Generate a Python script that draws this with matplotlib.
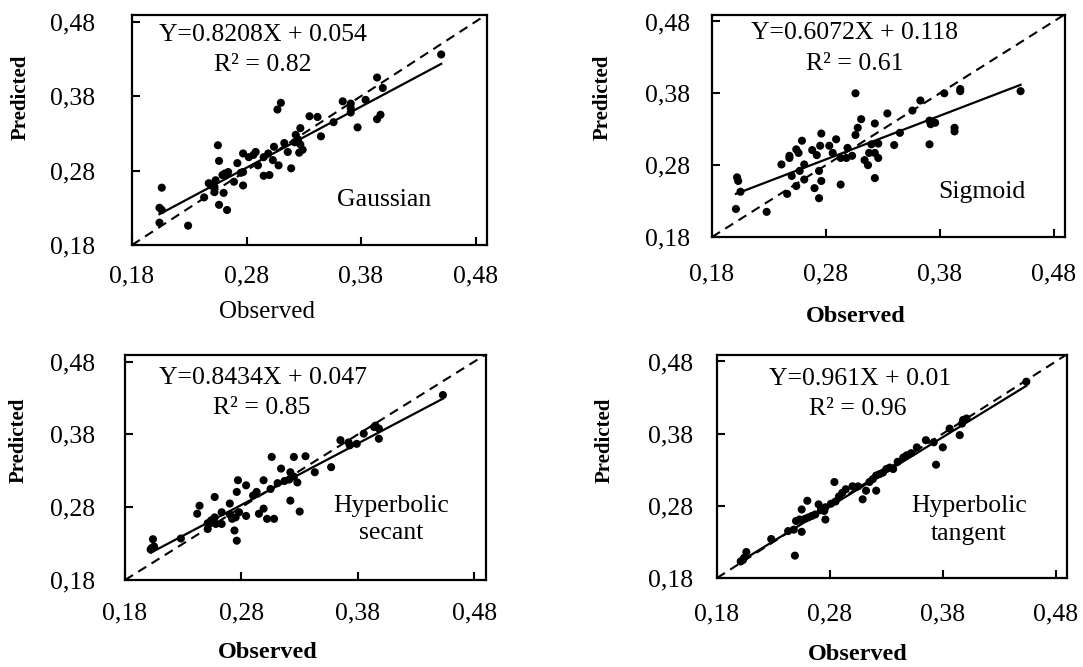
import matplotlib
matplotlib.use('Agg')
import matplotlib.pyplot as plt

plt.rcParams['font.family'] = ['Liberation Serif', 'DejaVu Serif']

# ── Data ────────────────────────────────────────────────────
obs_gauss = [0.450, 0.394, 0.399, 0.364, 0.371, 0.371, 0.371, 0.384, 0.377, 0.394,
             0.397, 0.356, 0.335, 0.342, 0.345, 0.327, 0.307, 0.310, 0.323, 0.325,
             0.327, 0.329, 0.326, 0.322, 0.313, 0.316, 0.304, 0.303, 0.308, 0.319,
             0.299, 0.295, 0.288, 0.286, 0.282, 0.290, 0.295, 0.300, 0.277, 0.272,
             0.275, 0.277, 0.277, 0.269, 0.255, 0.256, 0.259, 0.261, 0.264, 0.262,
             0.253, 0.252, 0.247, 0.249, 0.260, 0.243, 0.256, 0.263, 0.206, 0.204,
             0.206, 0.204, 0.229, 0.252]
pred_gauss = [0.436, 0.405, 0.391, 0.373, 0.370, 0.364, 0.358, 0.375, 0.338, 0.349,
              0.355, 0.345, 0.353, 0.352, 0.326, 0.337, 0.362, 0.371, 0.328, 0.322,
              0.315, 0.308, 0.304, 0.318, 0.317, 0.305, 0.312, 0.294, 0.287, 0.283,
              0.303, 0.298, 0.305, 0.301, 0.298, 0.287, 0.273, 0.274, 0.303, 0.290,
              0.277, 0.278, 0.260, 0.265, 0.314, 0.293, 0.274, 0.276, 0.278, 0.275,
              0.267, 0.258, 0.263, 0.260, 0.250, 0.244, 0.234, 0.227, 0.257, 0.230,
              0.227, 0.210, 0.206, 0.251]

obs_sigm = [0.451, 0.398, 0.398, 0.384, 0.363, 0.356, 0.371, 0.376, 0.372, 0.371,
            0.393, 0.393, 0.345, 0.340, 0.334, 0.323, 0.311, 0.308, 0.306, 0.306,
            0.320, 0.326, 0.318, 0.323, 0.326, 0.314, 0.317, 0.323, 0.299, 0.303,
            0.298, 0.293, 0.289, 0.283, 0.276, 0.275, 0.286, 0.268, 0.272, 0.274,
            0.276, 0.274, 0.293, 0.259, 0.254, 0.256, 0.248, 0.248, 0.261, 0.257,
            0.250, 0.254, 0.261, 0.270, 0.241, 0.246, 0.202, 0.203, 0.205, 0.201,
            0.228]
pred_sigm = [0.383, 0.386, 0.383, 0.380, 0.370, 0.356, 0.342, 0.339, 0.337, 0.309,
             0.332, 0.327, 0.325, 0.308, 0.352, 0.338, 0.344, 0.332, 0.380, 0.322,
             0.309, 0.310, 0.297, 0.297, 0.290, 0.287, 0.280, 0.262, 0.304, 0.293,
             0.290, 0.290, 0.316, 0.307, 0.324, 0.307, 0.297, 0.301, 0.294, 0.272,
             0.258, 0.234, 0.253, 0.314, 0.302, 0.297, 0.293, 0.290, 0.281, 0.272,
             0.265, 0.251, 0.260, 0.248, 0.281, 0.240, 0.263, 0.258, 0.243, 0.219,
             0.215]

obs_sech = [0.453, 0.395, 0.398, 0.394, 0.385, 0.398, 0.379, 0.372, 0.373, 0.365,
            0.357, 0.343, 0.306, 0.325, 0.335, 0.314, 0.322, 0.325, 0.328, 0.321,
            0.317, 0.322, 0.330, 0.311, 0.305, 0.299, 0.290, 0.293, 0.284, 0.277,
            0.276, 0.299, 0.295, 0.302, 0.308, 0.284, 0.278, 0.275, 0.272, 0.270,
            0.274, 0.276, 0.270, 0.257, 0.244, 0.242, 0.263, 0.257, 0.254, 0.251,
            0.258, 0.263, 0.251, 0.228, 0.204, 0.202, 0.203, 0.205]
pred_sech = [0.434, 0.392, 0.388, 0.390, 0.381, 0.374, 0.367, 0.369, 0.365, 0.372,
             0.335, 0.328, 0.349, 0.349, 0.350, 0.333, 0.328, 0.322, 0.314, 0.318,
             0.316, 0.289, 0.274, 0.313, 0.305, 0.317, 0.296, 0.301, 0.310, 0.317,
             0.301, 0.278, 0.271, 0.264, 0.264, 0.268, 0.273, 0.266, 0.264, 0.270,
             0.248, 0.234, 0.285, 0.294, 0.282, 0.271, 0.273, 0.266, 0.262, 0.258,
             0.257, 0.257, 0.250, 0.237, 0.236, 0.222, 0.224, 0.226]

obs_tanh = [0.454, 0.398, 0.401, 0.397, 0.395, 0.386, 0.380, 0.372, 0.365, 0.357,
            0.374, 0.345, 0.348, 0.336, 0.330, 0.327, 0.324, 0.321, 0.318, 0.321,
            0.312, 0.309, 0.305, 0.300, 0.294, 0.291, 0.288, 0.285, 0.284, 0.276,
            0.275, 0.276, 0.270, 0.267, 0.260, 0.255, 0.261, 0.258, 0.253, 0.250,
            0.255, 0.248, 0.243, 0.249, 0.228, 0.206, 0.204, 0.201, 0.203, 0.340,
            0.315, 0.272, 0.264, 0.281, 0.333, 0.352]
pred_tanh = [0.452, 0.399, 0.401, 0.394, 0.378, 0.387, 0.361, 0.368, 0.371, 0.361,
             0.337, 0.347, 0.350, 0.331, 0.331, 0.326, 0.324, 0.322, 0.317, 0.301,
             0.301, 0.289, 0.307, 0.307, 0.303, 0.298, 0.293, 0.286, 0.313, 0.278,
             0.273, 0.261, 0.282, 0.268, 0.287, 0.275, 0.264, 0.262, 0.261, 0.259,
             0.244, 0.247, 0.245, 0.211, 0.234, 0.216, 0.208, 0.203, 0.205, 0.341,
             0.313, 0.274, 0.266, 0.283, 0.333, 0.353]

models = ['Gaussian', 'Sigmoid', 'Hyperbolic\nsecant', 'Hyperbolic\ntangent']
slopes = [0.8208, 0.6072, 0.8434, 0.961]
intercepts = [0.054, 0.118, 0.047, 0.01]
eq_texts = ['Y=0.8208X + 0.054', 'Y=0.6072X + 0.118',
            'Y=0.8434X + 0.047', 'Y=0.961X + 0.01']
r2_texts = ['R² = 0.82', 'R² = 0.61', 'R² = 0.85', 'R² = 0.96']
ticks = [0.18, 0.28, 0.38, 0.48]
tick_labels = ['0,18', '0,28', '0,38', '0,48']

observed = [obs_gauss, obs_sigm, obs_sech, obs_tanh]
predicted = [pred_gauss, pred_sigm, pred_sech, pred_tanh]

# ── Layout (figure fractions, label spots in axes fractions) ──
W, H = 1083, 667
boxes_px = [(132, 15, 355, 230), (712, 15, 353, 222),
            (125, 355, 361, 225), (717, 355, 350, 223)]
eq_pos = [(0.369, 0.913), (0.405, 0.919), (0.382, 0.898), (0.409, 0.892)]
r2_pos = [(0.369, 0.783), (0.405, 0.779), (0.380, 0.764), (0.403, 0.758)]
name_pos = [(0.71, 0.196), (0.765, 0.203), (0.737, 0.267), (0.72, 0.26)]
ypad = [26.5, 16, 21.5, 17]
xpad = [15, 19, 16.5, 18]
xlab_pos = [(0.38, -0.29), (0.408, -0.356), (0.396, -0.32), (0.403, -0.345)]
xlab_bold = [False, True, True, True]
ylab_pos = [(-0.315, 0.643), (-0.309, 0.631), (-0.296, 0.622), (-0.32, 0.619)]

fig = plt.figure(figsize=(W / 100, H / 100), dpi=100)

for i in range(4):
    l, t, w, h = boxes_px[i]
    ax = fig.add_axes([l / W, (H - t - h) / H, w / W, h / H])
    ax.set_xlim(0.18, 0.49)
    ax.set_ylim(0.18, 0.489)

    xs, ys = observed[i], predicted[i]
    ax.scatter(xs, ys, s=34, color='black', edgecolors='none', zorder=3)

    # 1:1 line
    ax.plot([0.18, 0.49], [0.18, 0.49], ls=(0, (4.5, 3)), color='black', lw=1.5, zorder=2)
    # linear fit from the reported equation
    x0, x1 = min(xs), max(xs)
    ax.plot([x0, x1], [slopes[i] * x0 + intercepts[i], slopes[i] * x1 + intercepts[i]],
            color='black', lw=1.6, zorder=2)

    ax.text(*eq_pos[i], eq_texts[i], transform=ax.transAxes,
            ha='center', va='center', fontsize=18.5)
    ax.text(*r2_pos[i], r2_texts[i], transform=ax.transAxes,
            ha='center', va='center', fontsize=18.5)
    ax.text(*name_pos[i], models[i], transform=ax.transAxes,
            ha='center', va='center', fontsize=18.5, linespacing=1.3)

    ax.set_xticks(ticks)
    ax.set_xticklabels(tick_labels)
    ax.set_yticks(ticks)
    ax.set_yticklabels(tick_labels)
    ax.tick_params(axis='both', direction='in', length=6, width=1.5,
                   labelsize=18.5, top=False, right=False)
    ax.tick_params(axis='y', pad=ypad[i])
    ax.tick_params(axis='x', pad=xpad[i])
    for sp in ax.spines.values():
        sp.set_linewidth(1.6)

    ax.set_xlabel('Observed', fontsize=18 if not xlab_bold[i] else 17.5,
                  fontweight='bold' if xlab_bold[i] else 'normal')
    ax.xaxis.label.set_va('center')
    ax.xaxis.set_label_coords(*xlab_pos[i])
    ax.set_ylabel('Predicted', fontsize=15, fontweight='bold')
    ax.yaxis.label.set_va('center')
    ax.yaxis.set_label_coords(*ylab_pos[i])

fig.savefig('out.png', dpi=100, facecolor='white')
